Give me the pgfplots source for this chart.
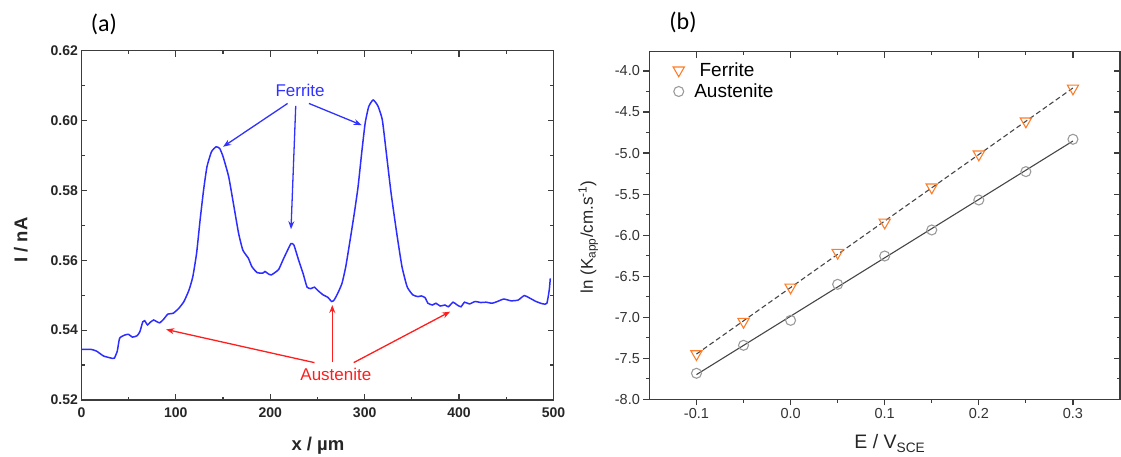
\documentclass[border=0pt]{standalone}
\usepackage{fontspec}
\setmainfont{Liberation Sans}
\newfontfamily\carlito{Carlito}
\usepackage{pgfplots}
\pgfplotsset{compat=1.18}
\usetikzlibrary{arrows.meta}
\definecolor{curveblue}{RGB}{45,45,255}
\definecolor{annblue}{RGB}{50,50,255}
\definecolor{annred}{RGB}{255,30,30}
\definecolor{spine}{RGB}{60,60,60}
\definecolor{ferr}{RGB}{255,125,40}
\definecolor{aust}{RGB}{155,155,155}
\definecolor{fitline}{RGB}{70,70,70}

\begin{document}
\begin{tikzpicture}
\path[use as bounding box] (0pt,0pt) rectangle (1121pt,-457pt);
\node[font=\carlito\fontsize{24}{28}\selectfont] at (104pt,-24pt) {(a)};
\node[font=\carlito\fontsize{24}{28}\selectfont] at (683pt,-22pt) {(b)};

% ---------------- panel (a)
\begin{axis}[
 at={(81.4pt,-400pt)}, anchor=south west,
 scale only axis, width=472.1pt, height=349.3pt,
 xmin=0, xmax=500, ymin=0.52, ymax=0.62,
 xtick={0,100,200,300,400,500}, ytick={0.52,0.54,0.56,0.58,0.60,0.62},
 minor x tick num=1, minor y tick num=1,
 tick align=inside,
 major tick length=6pt, minor tick length=3.5pt,
 axis line style={spine, line width=1.4pt},
 every tick/.style={spine, line width=1.2pt},
 /pgf/number format/assume math mode=true,
 ticklabel style={font=\fontsize{14}{16}\selectfont\bfseries, text=black!85},
 yticklabel style={/pgf/number format/.cd, fixed, fixed zerofill, precision=2},
 xticklabel style={/pgf/number format/fixed, yshift=-4pt},
 xlabel={x / µm}, ylabel={I / nA},
 label style={font=\fontsize{18.5}{20}\selectfont\bfseries, text=black!85},
 xlabel style={at={(axis description cs:0.501,-0.132)}, anchor=center},
 ylabel style={at={(axis description cs:-0.128,0.458)}, anchor=center},
 clip=false,
]
\addplot[curveblue, line width=1.5pt, smooth, tension=0.3] coordinates {
(0,0.5345) (10,0.5345) (16,0.5340) (23.5,0.5326) (33,0.5319) (35,0.5320)
(38,0.5340) (40.5,0.5377) (46,0.5386) (50,0.5388) (54,0.5380) (59,0.5384)
(62,0.5396) (65,0.5424) (67,0.5427) (70,0.5415) (72.7,0.5422) (76.5,0.5429)
(80,0.5424) (83,0.5421) (87,0.5431) (91.6,0.5446) (97,0.5448) (103,0.5462)
(108.6,0.5482) (114,0.5515) (118,0.5553) (122,0.5620) (125.7,0.5715)
(129.4,0.5801) (133,0.5868) (137.8,0.5911) (142.7,0.5925) (146.5,0.5920)
(150,0.5897) (156,0.5839) (161.6,0.5753) (166.5,0.5677) (171,0.5629)
(176.8,0.5606) (180.5,0.5582) (186,0.5565) (192,0.5563) (194.5,0.5568)
(198,0.5561) (201,0.5558) (205,0.5565) (209,0.5574) (213.5,0.5601)
(218.4,0.5629) (222,0.5648) (225,0.5644) (230,0.5601) (234.7,0.5563)
(239,0.5523) (243,0.5519) (246.8,0.5523) (250.6,0.5513) (256,0.5501)
(261,0.5494) (265,0.5482) (267.6,0.5486) (271.4,0.5505) (276,0.5534)
(280,0.5582) (284.6,0.5658) (289,0.5734) (293,0.5810) (296.8,0.5906)
(300.5,0.5992) (304.3,0.6040) (309,0.6059) (314,0.6042) (318.7,0.6002)
(323,0.5906) (328,0.5792) (334,0.5677) (339.5,0.5582) (345,0.5524)
(351,0.5501) (356.5,0.5496) (360,0.5498) (364,0.5493) (367,0.5477)
(371.7,0.5472) (375.5,0.5477) (380,0.5469) (385,0.5472) (388.7,0.5467)
(393.6,0.5480) (398,0.5472) (402,0.5467) (405.8,0.5480) (411,0.5475)
(417,0.5482) (423,0.5479) (428.5,0.5480) (435,0.5477) (440.5,0.5482)
(447.4,0.5489) (455,0.5484) (462.5,0.5486) (469,0.5499) (474,0.5493)
(481.5,0.5482) (489,0.5475) (493,0.5477) (495.5,0.5515) (496.6,0.5548)
};
\node[annblue, font=\fontsize{17}{20}\selectfont] at (axis cs:231.6,0.6087) {Ferrite};
\draw[annblue, line width=1.3pt, -{Stealth[length=8pt,width=6pt]}] (axis cs:218.4,0.6049) -- (axis cs:150,0.5925);
\draw[annblue, line width=1.3pt, -{Stealth[length=8pt,width=6pt]}] (axis cs:227,0.6042) -- (axis cs:222,0.5689);
\draw[annblue, line width=1.3pt, -{Stealth[length=8pt,width=6pt]}] (axis cs:241,0.6049) -- (axis cs:296.8,0.5987);
\node[annred, font=\fontsize{17}{20}\selectfont] at (axis cs:269.5,0.5272) {Austenite};
\draw[annred, line width=1.3pt, -{Stealth[length=8pt,width=6pt]}] (axis cs:246.8,0.5307) -- (axis cs:89.7,0.5402);
\draw[annred, line width=1.3pt, -{Stealth[length=8pt,width=6pt]}] (axis cs:265.7,0.5308) -- (axis cs:265.7,0.5472);
\draw[annred, line width=1.3pt, -{Stealth[length=8pt,width=6pt]}] (axis cs:288.4,0.5307) -- (axis cs:390.6,0.5453);
\end{axis}

% ---------------- panel (b)
\begin{axis}[
 at={(649.4pt,-399.3pt)}, anchor=south west,
 scale only axis, width=470.6pt, height=347.6pt,
 xmin=-0.15, xmax=0.35, ymin=-8, ymax=-3.765,
 xtick={-0.1,0,0.1,0.2,0.3}, minor x tick num=1,
 ytick={-8,-7.5,-7,-6.5,-6,-5.5,-5,-4.5,-4}, minor y tick num=1,
 tick align=outside, tick pos=left,
 major tick length=6pt, minor tick length=3.5pt,
 axis line style={spine, line width=1.4pt},
 every tick/.style={spine, line width=1.2pt},
 /pgf/number format/assume math mode=true,
 ticklabel style={font=\fontsize{14.5}{16}\selectfont, text=black!80},
 yticklabel style={/pgf/number format/.cd, fixed, fixed zerofill, precision=1},
 xticklabel style={/pgf/number format/.cd, fixed, fixed zerofill, precision=1},
 xlabel={E / V\textsubscript{SCE}},
 ylabel={ln (K\textsubscript{app}/cm.s\textsuperscript{-1})},
 xlabel style={font=\fontsize{19.5}{22}\selectfont, text=black!85, at={(axis description cs:0.511,-0.127)}, anchor=center},
 ylabel style={font=\fontsize{17}{20}\selectfont, text=black!85, at={(axis description cs:-0.130,0.467)}, anchor=center},
 legend style={draw=none, fill=none, at={(axis description cs:0.048,0.975)}, anchor=north west,
   font=\fontsize{19}{21}\selectfont, row sep=2pt, inner sep=0pt},
 legend image code/.code={\draw[#1] plot coordinates {(0pt,0pt)}; \path (-6pt,0pt) (13pt,0pt);},
 legend cell align=left,
]
\addplot[fitline, dash pattern=on 5pt off 3pt, line width=1.1pt, forget plot] coordinates {(-0.1,-7.449) (0.3,-4.207)};
\addplot[fitline, line width=1.1pt, forget plot] coordinates {(-0.1,-7.699) (0.3,-4.853)};
\addplot[only marks, mark=triangle, mark size=6.5pt, ferr, line width=1.1pt, mark options={rotate=180, fill=none, solid}] coordinates {
(-0.1,-7.448) (-0.05,-7.054) (0,-6.636) (0.05,-6.213) (0.1,-5.844) (0.15,-5.417) (0.2,-5.015) (0.25,-4.613) (0.3,-4.211)};
\addlegendentry{\ Ferrite}
\addplot[only marks, mark=o, mark size=5pt, aust, line width=1.1pt, mark options={fill=none, solid}] coordinates {
(-0.1,-7.683) (-0.05,-7.342) (0,-7.038) (0.05,-6.599) (0.1,-6.254) (0.15,-5.937) (0.2,-5.572) (0.25,-5.226) (0.3,-4.832)};
\addlegendentry{Austenite}
\end{axis}
\begin{axis}[
 at={(649.4pt,-399.3pt)}, anchor=south west,
 scale only axis, width=470.6pt, height=347.6pt,
 xmin=-0.15, xmax=0.35, ymin=-8, ymax=-3.765,
 xtick={-0.1,0,0.1,0.2,0.3}, minor x tick num=1,
 ytick={-8,-7.5,-7,-6.5,-6,-5.5,-5,-4.5,-4}, minor y tick num=1,
 tick align=inside, tick pos=right,
 xticklabels={}, yticklabels={},
 major tick length=6pt, minor tick length=3.5pt,
 axis line style={spine, line width=1.4pt},
 every tick/.style={spine, line width=1.2pt},
]
\end{axis}
\end{tikzpicture}
\end{document}
